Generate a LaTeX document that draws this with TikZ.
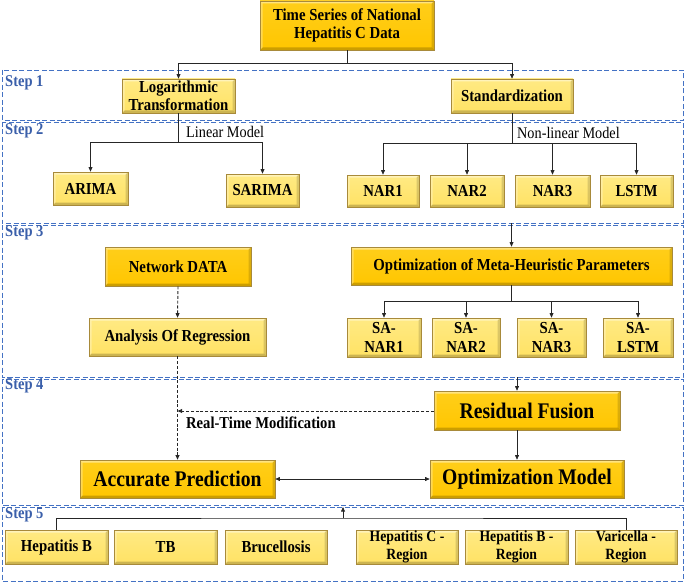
\documentclass[tikz,border=0pt]{standalone}
\usepackage{fontspec}
\setmainfont{Liberation Serif}[FakeStretch=0.88]
\usetikzlibrary{arrows.meta,calc}
\definecolor{gold}{HTML}{FFC600}
\definecolor{goldtop}{HTML}{FFCE1A}
\definecolor{golddk}{HTML}{A88A3A}
\definecolor{lite}{HTML}{FFE264}
\definecolor{litetop}{HTML}{FFEA84}
\definecolor{stepblue}{HTML}{4472C4}
\definecolor{steptext}{HTML}{3A5FAA}
\tikzset{
  bevel/.style={path picture={
    \path (path picture bounding box.north west) coordinate (bnw)
          (path picture bounding box.south east) coordinate (bse);
    \fill[white,opacity=.45] (bnw) -- (bnw -| bse) -- ([shift={(-2.5pt,-2.5pt)}]bnw -| bse) -- ([shift={(2.5pt,-2.5pt)}]bnw) -- cycle;
    \fill[white,opacity=.3] (bnw) -- (bnw |- bse) -- ([shift={(2.5pt,2.5pt)}]bnw |- bse) -- ([shift={(2.5pt,-2.5pt)}]bnw) -- cycle;
    \fill[black,opacity=.2] (bse) -- (bnw |- bse) -- ([shift={(2.5pt,2.5pt)}]bnw |- bse) -- ([shift={(-2.5pt,2.5pt)}]bse) -- cycle;
    \fill[black,opacity=.14] (bse) -- (bnw -| bse) -- ([shift={(-2.5pt,-2.5pt)}]bnw -| bse) -- ([shift={(-2.5pt,2.5pt)}]bse) -- cycle;
  }},
  darkbox/.style={draw=golddk, line width=0.6pt, top color=goldtop, bottom color=gold, bevel,
    align=center, inner sep=1pt, font=\bfseries\fontsize{16.8}{18.5}\selectfont},
  litebox/.style={draw=golddk, line width=0.6pt, top color=litetop, bottom color=lite, bevel,
    align=center, inner sep=1pt, font=\bfseries\fontsize{16.8}{18.5}\selectfont},
  bigbox/.style={darkbox, font=\bfseries\fontsize{22.3}{25}\selectfont},
  stepframe/.style={draw=stepblue, line width=0.9pt, dash pattern=on 5pt off 2.5pt},
  steplabel/.style={anchor=west, text=steptext, font=\bfseries\fontsize{16.5}{18}\selectfont, inner sep=0pt},
  conn/.style={draw=black!85, line width=0.7pt},
  arr/.style={conn, -{Triangle[length=4.5pt,width=3.8pt]}},
  darr/.style={arr, line width=0.9pt, dash pattern=on 3pt off 1.8pt},
  biarr/.style={conn, {Triangle[length=4.5pt,width=3.8pt]}-{Triangle[length=4.5pt,width=3.8pt]}},
  lbl/.style={anchor=west, inner sep=0pt, font=\fontsize{16.2}{18}\selectfont},
  blbl/.style={anchor=west, inner sep=0pt, font=\bfseries\fontsize{16.6}{18}\selectfont},
  regbox/.style={litebox, font=\bfseries\fontsize{15.6}{17.5}\selectfont},
}
\begin{document}
\begin{tikzpicture}[x=1pt,y=-1pt]
\useasboundingbox (0,0) rectangle (685,583);
\fill[white] (0,0) rectangle (685,583);

% step frames
\draw[stepframe] (2,70) rectangle (683,120);
\draw[stepframe] (2,122) rectangle (683,223);
\draw[stepframe] (2,225) rectangle (683,377);
\draw[stepframe] (2,379) rectangle (683,505);
\draw[stepframe] (2,507) rectangle (683,581);
\node[steplabel] (st1) at (5,83) {Step 1};
\node[steplabel] (st2) at (5,131) {Step 2};
\node[steplabel] (st3) at (5,233) {Step 3};
\node[steplabel] (st4) at (5,386) {Step 4};
\node[steplabel] (st5) at (5,515) {Step 5};

% nodes
\node[darkbox, minimum width=174pt, minimum height=49pt] (top) at (347,25.5) {Time Series of National\\Hepatitis C Data};
\node[litebox, minimum width=113pt, minimum height=34pt] (log) at (178.5,96) {Logarithmic\\Transformation};
\node[litebox, minimum width=122pt, minimum height=34pt] (std) at (512,96) {Standardization};

\node[litebox, minimum width=75pt, minimum height=33pt] (arima) at (90.5,188.5) {ARIMA};
\node[litebox, minimum width=73pt, minimum height=33pt] (sarima) at (262.5,190.5) {SARIMA};
\node[litebox, minimum width=72pt, minimum height=32pt] (nar1) at (383,191) {NAR1};
\node[litebox, minimum width=74pt, minimum height=32pt] (nar2) at (467,191) {NAR2};
\node[litebox, minimum width=75pt, minimum height=32pt] (nar3) at (552.5,191) {NAR3};
\node[litebox, minimum width=73pt, minimum height=32pt] (lstm) at (636.5,191) {LSTM};

\node[darkbox, minimum width=146pt, minimum height=39pt] (net) at (178,266.5) {Network DATA};
\node[litebox, minimum width=177pt, minimum height=38pt] (reg) at (177.5,337) {Analysis Of Regression};
\node[darkbox, minimum width=321pt, minimum height=38pt] (meta) at (511.5,266) {Optimization of Meta-Heuristic Parameters};
\node[litebox, minimum width=74pt, minimum height=39pt] (sa1) at (384,337.5) {SA-\\NAR1};
\node[litebox, minimum width=68pt, minimum height=39pt] (sa2) at (466,337.5) {SA-\\NAR2};
\node[litebox, minimum width=69pt, minimum height=39pt] (sa3) at (551.5,337.5) {SA-\\NAR3};
\node[litebox, minimum width=70pt, minimum height=39pt] (sa4) at (638,337.5) {SA-\\LSTM};

\node[bigbox, minimum width=186pt, minimum height=39pt] (res) at (527,410.5) {Residual Fusion};
\node[bigbox, minimum width=195pt, minimum height=38pt] (acc) at (177.5,479) {Accurate Prediction};
\node[bigbox, minimum width=194pt, minimum height=38pt] (optm) at (527,479) {Optimization Model};

\node[litebox, minimum width=103pt, minimum height=34pt] (hb) at (56.5,547) {Hepatitis B};
\node[litebox, minimum width=103pt, minimum height=34pt] (tb) at (165.5,547) {TB};
\node[litebox, minimum width=102pt, minimum height=34pt] (bru) at (276,547) {Brucellosis};
\node[regbox, minimum width=102pt, minimum height=34pt] (hcr) at (407,547) {Hepatitis C -\\Region};
\node[regbox, minimum width=103pt, minimum height=34pt] (hbr) at (516.5,547) {Hepatitis B -\\Region};
\node[regbox, minimum width=102pt, minimum height=34pt] (var) at (626,547) {Varicella -\\Region};

% labels
\node[lbl] (linlbl) at (186,132) {Linear Model};
\node[lbl] (nonlbl) at (517,133) {Non-linear Model};
\node[blbl] (rtlbl) at (186,423) {Real-Time Modification};

% connectors
\coordinate (j1) at (347,63);
\draw[conn] (top.south) -- (j1);
\draw[arr] (j1) -| (log.north);
\draw[arr] (j1) -| (std.north);

\coordinate (j2) at (178.5,142);
\draw[conn] (log.south) -- (j2);
\draw[arr] (j2) -| (arima.north);
\draw[arr] (j2) -| (sarima.north);

\coordinate (j3) at (512,143);
\draw[conn] (std.south) -- (j3);
\draw[arr] (j3) -| (nar1.north);
\draw[arr] (j3) -| (nar2.north);
\draw[arr] (j3) -| (nar3.north);
\draw[arr] (j3) -| (lstm.north);

\coordinate (s2b) at (511.5,223);
\draw[arr] (s2b) -- (meta.north);

\draw[darr] (net.south) -- (reg.north);

\coordinate (j4) at (511.5,301);
\draw[conn] (meta.south) -- (j4);
\draw[arr] (j4) -| (sa1.north);
\draw[arr] (j4) -| (sa2.north);
\draw[arr] (j4) -| (sa3.north);
\draw[arr] (j4) -| (sa4.north);

\coordinate (s3b) at (517,377);
\draw[arr] (s3b) -- (s3b |- res.north);
\draw[arr] (res.south -| s3b) -- (s3b |- optm.north);

\coordinate (rt) at (177.5,411);
\draw[darr] (res.west |- rt) -- (rt);
\draw[darr] (reg.south) -- (acc.north);

\draw[biarr] (acc.east) -- (optm.west);

\coordinate (j5) at (343,518);
\coordinate (s5t) at (343,507);
\draw[conn] (hb.north) |- (j5) -| (var.north);
\draw[arr] (j5) -- (s5t);
\end{tikzpicture}
\end{document}
